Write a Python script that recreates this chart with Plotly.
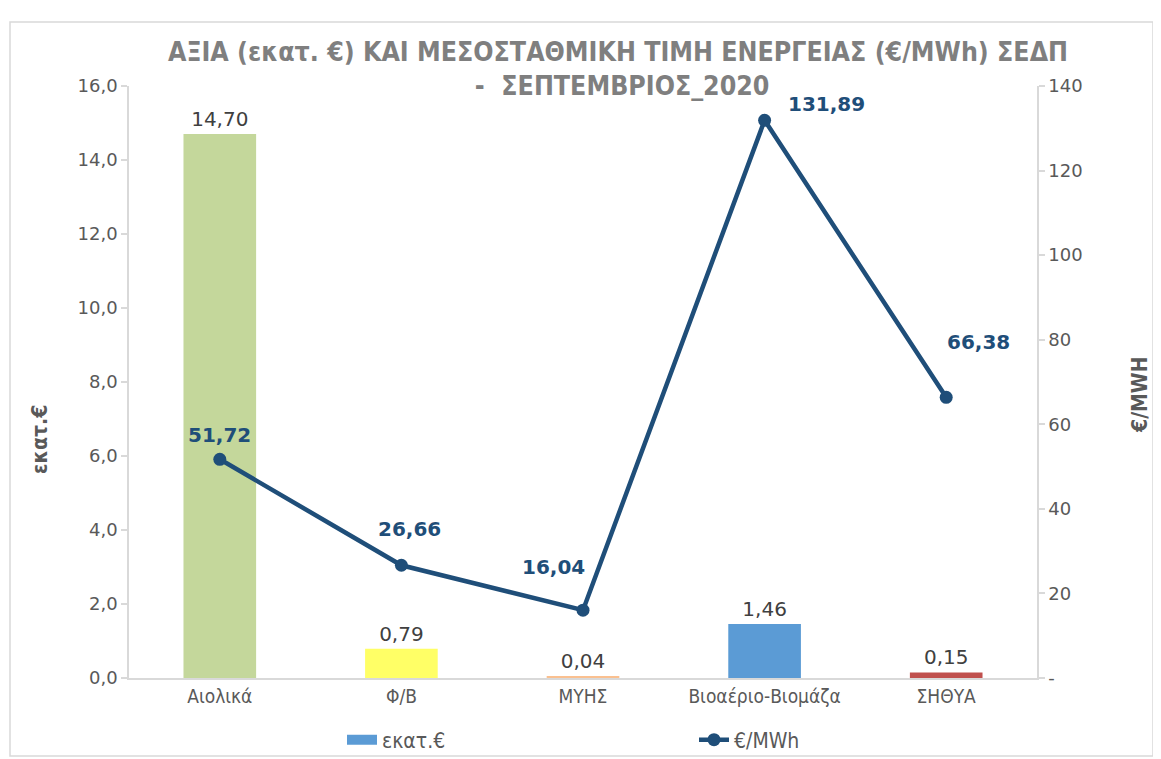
import plotly.graph_objects as go

# ---- data ----
categories = ["Αιολικά", "Φ/Β", "ΜΥΗΣ", "Βιοαέριο-Βιομάζα", "ΣΗΘΥΑ"]
value_meur = [14.70, 0.79, 0.04, 1.46, 0.15]
price_eur_mwh = [51.72, 26.66, 16.04, 131.89, 66.38]
bar_colors = ["#c4d79b", "#ffff66", "#fac090", "#5b9bd5", "#c0504d"]
left_ticks = [0, 2, 4, 6, 8, 10, 12, 14, 16]
right_ticks = [0, 20, 40, 60, 80, 100, 120, 140]
right_ticktext = ["-" if v == 0 else str(v) for v in right_ticks]
# label offsets (px) for line data labels, style only
label_shift = [(0, 24), (8, 36), (-30, 43), (62, 16), (32, 55)]

title_font = "Liberation Sans Narrow, DejaVu Sans Condensed, Roboto Condensed, Arial Narrow, sans-serif"
num_font = "DejaVu Sans, Verdana, sans-serif"
line_color = "#1f4e79"
axis_gray = "#d9d9d9"
text_gray = "#595959"

# figure is offset by the 8px page margin; target plot area 129..1037 x 86..678
W, H = 1153, 751
OFF = 8
PL, PR, PT, PB = 129, 1037, 86, 678
pw, ph = PR - PL, PB - PT


def px_x(X):
    return (X - PL) / pw


def px_y(Y):
    return (PB - Y) / ph


fig = go.Figure()

fig.add_trace(go.Bar(
    x=categories, y=value_meur, marker=dict(color=bar_colors, line=dict(width=0)),
    width=0.4, texttemplate="%{y:.2f}", textposition="outside",
    textfont=dict(family=num_font, size=20, color="#404040"),
    cliponaxis=False, showlegend=False, name="εκατ.€", yaxis="y",
))

# legend entry for the bar series (single blue swatch as in the reference)
fig.add_trace(go.Scatter(
    x=[None], y=[None], mode="lines", line=dict(color="#5b9bd5", width=14),
    name="εκατ.€", yaxis="y",
))

fig.add_trace(go.Scatter(
    x=categories, y=price_eur_mwh, mode="lines+markers", name="€/MWh",
    line=dict(color=line_color, width=4.5), marker=dict(size=13, color=line_color),
    yaxis="y2", cliponaxis=False,
))

for c, v, (dx, dy) in zip(categories, price_eur_mwh, label_shift):
    fig.add_annotation(
        x=c, y=v, xref="x", yref="y2", text=f"{v:.2f}".replace(".", ","),
        showarrow=False, xshift=dx, yshift=dy,
        font=dict(family=num_font, size=20, color=line_color, weight="bold"),
    )

# axis titles
fig.add_annotation(x=px_x(40), y=px_y(440), xref="paper", yref="paper",
                   xanchor="center", yanchor="middle",
                   text="εκατ.€", textangle=-90, showarrow=False,
                   font=dict(family=title_font, size=21, color=text_gray, weight="bold"))
fig.add_annotation(x=px_x(1140), y=px_y(395), xref="paper", yref="paper",
                   xanchor="center", yanchor="middle",
                   text="€/MWH", textangle=-90, showarrow=False,
                   font=dict(family=title_font, size=21, color=text_gray, weight="bold"))

# chart border
fig.add_shape(type="rect", xref="paper", yref="paper",
              x0=px_x(10), x1=px_x(1153),
              y0=px_y(756), y1=px_y(22),
              line=dict(color="#d9d9d9", width=1.5), layer="below")

fig.update_layout(
    width=W, height=H,
    margin=dict(l=PL - OFF, r=W - (PR - OFF), t=PT - OFF, b=H - (PB - OFF),
                autoexpand=False),
    paper_bgcolor="white", plot_bgcolor="white",
    separators=",.",
    title=dict(
        text="ΑΞΙΑ (εκατ. €) ΚΑΙ ΜΕΣΟΣΤΑΘΜΙΚΗ ΤΙΜΗ ΕΝΕΡΓΕΙΑΣ (€/MWh) ΣΕΔΠ<br> -  ΣΕΠΤΕΜΒΡΙΟΣ_2020",
        x=(618 - OFF) / W, xanchor="center", y=1 - 53 / H, yanchor="top",
        font=dict(family=title_font, size=26.5, color="#7f7f7f", weight="bold"),
    ),
    xaxis=dict(
        showline=True, linecolor=axis_gray, linewidth=1.5, ticks="",
        tickfont=dict(family=title_font, size=19, color=text_gray),
        showgrid=False,
    ),
    yaxis=dict(
        range=[0, 16], tickvals=left_ticks, tickformat=".1f",
        showline=True, linecolor=axis_gray, linewidth=1.5,
        ticks="outside", ticklen=6, tickcolor=axis_gray, tickwidth=1.5,
        tickfont=dict(family=num_font, size=18, color=text_gray),
        showgrid=False, zeroline=False,
    ),
    yaxis2=dict(
        range=[0, 140], tickvals=right_ticks, ticktext=right_ticktext,
        overlaying="y", side="right",
        showline=True, linecolor=axis_gray, linewidth=1.5,
        ticks="outside", ticklen=6, tickcolor=axis_gray, tickwidth=1.5,
        tickfont=dict(family=num_font, size=18, color=text_gray),
        showgrid=False, zeroline=False,
    ),
    legend=dict(
        orientation="h", x=px_x(342), xanchor="left",
        y=px_y(740), yanchor="middle",
        entrywidth=307, entrywidthmode="pixels",
        font=dict(family=title_font, size=21, color=text_gray),
        bgcolor="rgba(0,0,0,0)",
    ),
)

fig.write_html("out.html")
